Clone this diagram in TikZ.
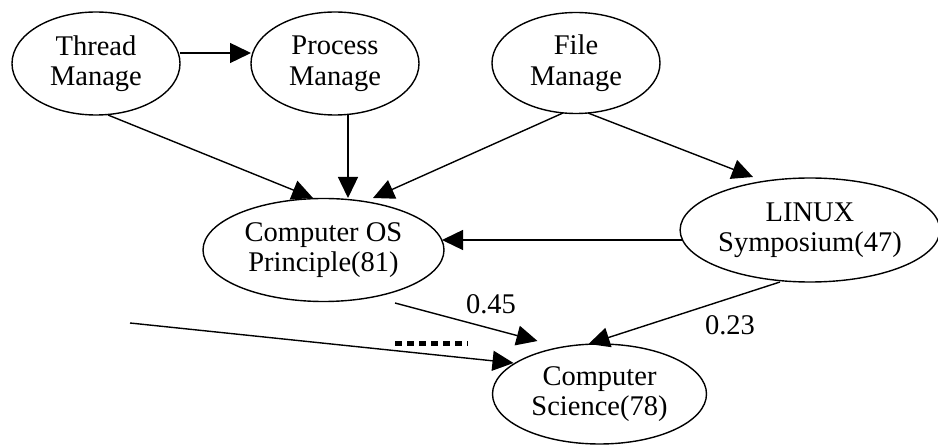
\documentclass[tikz,border=0pt]{standalone}
\usepackage{fontspec}
\setmainfont{Liberation Serif}
\usetikzlibrary{shapes.geometric,arrows.meta,calc}
\begin{document}
\begin{tikzpicture}[x=1pt,y=-1pt,
  ell/.style={draw,ellipse,line width=1.4pt,inner sep=0pt,align=center,
    font=\fontsize{28.5pt}{30.5pt}\selectfont},
  conn/.style={line width=1.4pt,-{Triangle[length=21pt,width=20pt]}},
  lbl/.style={font=\fontsize{28.5pt}{30.5pt}\selectfont,inner sep=0pt}]
\useasboundingbox (0,0) rectangle (938,446);
\node[ell,minimum width=168pt,minimum height=103pt] (thr) at (96,63.5) {Thread\\Manage};
\node[ell,minimum width=168pt,minimum height=103pt] (proc) at (335,63.5) {Process\\Manage};
\node[ell,minimum width=168pt,minimum height=101pt] (file) at (576,63) {File\\Manage};
\node[ell,minimum width=241pt,minimum height=103pt] (os) at (323.5,250) {Computer OS\\Principle(81)};
\node[ell,minimum width=254pt,minimum height=104pt] (lin) at (810,230) {LINUX\\Symposium(47)};
\node[ell,minimum width=214pt,minimum height=100pt] (cs) at (599.5,394) {Computer\\Science(78)};
\coordinate (src) at (130,323);
\coordinate (d1) at (395,343.3);
\coordinate (d2) at (467.7,343.3);
\draw[conn] ($(thr.center)+(84,-10.5)$) -- ($(proc.center)+(-84,-10.5)$);
\draw[conn] ($(thr.center)+(12,51.5)$) -- ($(os.center)+(-10.5,-52)$);
\draw[conn] ($(proc.center)+(13,51.5)$) -- ($(os.center)+(24.5,-52)$);
\draw[conn] ($(file.center)+(-13,50)$) -- ($(os.center)+(49.5,-52)$);
\draw[conn] ($(file.center)+(12,50)$) -- ($(lin.center)+(-57,-53)$);
\draw[conn] ($(lin.center)+(-127,10)$) -- ($(os.center)+(118.5,-10)$);
\draw[conn] ($(os.center)+(71.5,53)$) -- ($(cs.center)+(-62,-53)$);
\draw[conn] ($(lin.center)+(-30,52)$) -- ($(cs.center)+(-11,-50)$);
\draw[conn] (src) -- ($(cs.center)+(-86,-31)$);
\draw[line width=5pt,dash pattern=on 6.7pt off 5.3pt] (d1) -- (d2);
\node[lbl] (l45) at (491,304) {0.45};
\node[lbl] (l23) at (730,325) {0.23};
\end{tikzpicture}
\end{document}
